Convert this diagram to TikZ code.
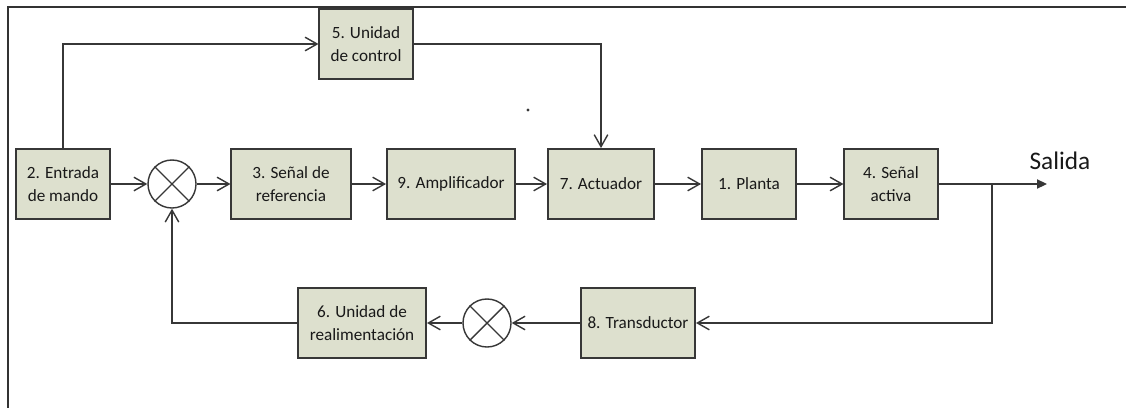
\documentclass[tikz,border=0pt]{standalone}
\usepackage{fontspec}
\setmainfont{Carlito}
\usepackage{tikz}
\usetikzlibrary{positioning,arrows.meta}
\definecolor{boxfill}{RGB}{221,224,206}
\definecolor{edge}{RGB}{55,55,55}

\begin{document}
\begin{tikzpicture}[x=0.025cm,y=-0.025cm,
  block/.style={draw=edge,fill=boxfill,line width=1.3pt,minimum height=1.75cm,align=center,text=black!90,font=\fontsize{12.2}{16}\selectfont},
  sumpt/.style={draw=edge,circle,line width=1pt,minimum size=1.2cm,inner sep=0pt},
  wire/.style={draw=edge,line width=1pt},
  flow/.style={wire,-{Straight Barb[length=3mm,width=3.4mm]}},
  outflow/.style={wire,-{Triangle[length=2.5mm,width=2.3mm]}}]
\useasboundingbox (0,0) rectangle (1126,408);
\draw[line width=1.3pt,black!80] (1126,7) -- (8,7) -- (8,408);
\node[block,minimum width=2.35cm] (entrada) at (63,184) {2. Entrada\\de mando};
\node[sumpt] (sum1) at (172,184) {};
\node[block,minimum width=2.98cm] (ref) at (291,184) {3. Señal de\\referencia};
\node[block,minimum width=3.2cm] (amp) at (451,184) {9. Amplificador};
\node[block,minimum width=2.65cm] (act) at (601,184) {7. Actuador};
\node[block,minimum width=2.35cm] (planta) at (749,184) {1. Planta};
\node[block,minimum width=2.33cm] (activa) at (891,184) {4. Señal\\activa};
\node[block,minimum width=2.33cm] (control) at (366,44) {5. Unidad\\de control};
\node[block,minimum width=2.85cm] (trans) at (638,323) {8. Transductor};
\node[sumpt] (sum2) at (487,323) {};
\node[block,minimum width=3.2cm] (realim) at (362,323) {6. Unidad de\\realimentación};
\node[font=\fontsize{18}{20}\selectfont,text=black!90] (salida) at (1060,161) {Salida};
\coordinate (split) at (992,184);
\coordinate (out) at (1047,184);
\foreach \s in {sum1,sum2}
  \draw[wire] (\s.45) -- (\s.225) (\s.135) -- (\s.315);
\fill[edge] (528,110) circle (1.1pt);
\draw[flow] (entrada) -- (sum1);
\draw[flow] (sum1) -- (ref);
\draw[flow] (ref) -- (amp);
\draw[flow] (amp) -- (act);
\draw[flow] (act) -- (planta);
\draw[flow] (planta) -- (activa);
\draw[wire] (activa) -- (split);
\draw[outflow] (split) -- (out);
\draw[flow] (split) |- (trans);
\draw[flow] (trans) -- (sum2);
\draw[flow] (sum2) -- (realim);
\draw[flow] (realim) -| (sum1);
\draw[flow] (entrada) |- (control);
\draw[flow] (control) -| (act);
\end{tikzpicture}
\end{document}
